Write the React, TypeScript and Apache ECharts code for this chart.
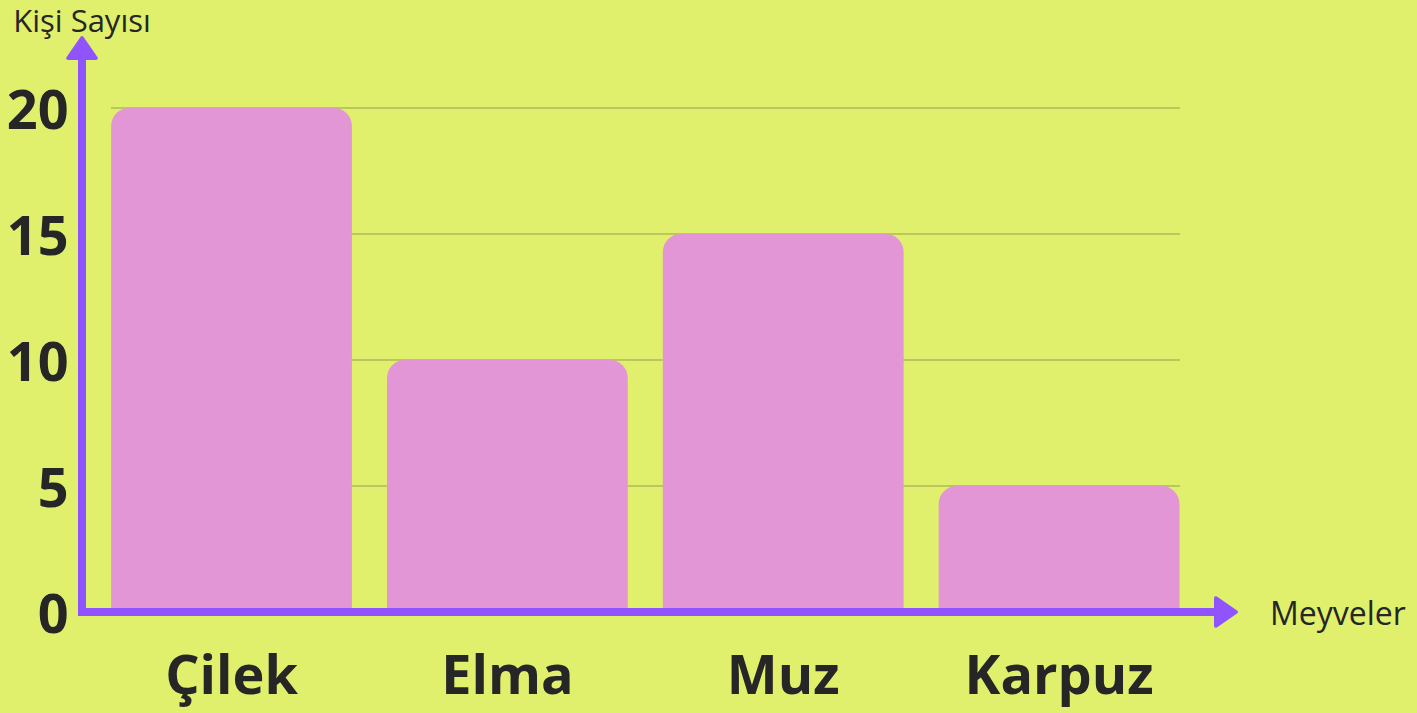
import React, { useEffect, useRef } from "react";
import * as echarts from "echarts";

const categories = ["Çilek", "Elma", "Muz", "Karpuz"];
const values = [20, 10, 15, 5];
const yTicks = [0, 5, 10, 15, 20];
const yAxisName = "Kişi Sayısı";
const xAxisName = "Meyveler";

const BG = "#E1F06C";
const BAR = "#E296D6";
const PURPLE = "#9054FF";
const GRIDLINE = "#AEBA5A";
const TEXT = "#262626";
const FONT = "'Open Sans', 'Noto Sans', sans-serif";

const ARROW =
  "path://M60,5 Q66.5,-3 73,5 L130,88 Q136,100 122,100 L11,100 Q-3,100 3,88 Z";

export default function App() {
  const ref = useRef<HTMLDivElement>(null);
  useEffect(() => {
    if (!ref.current) return;
    const chart = echarts.init(ref.current, undefined, { renderer: "svg" });
    const yMin = yTicks[0];
    const yMax = yTicks[yTicks.length - 1];
    const yInterval = yTicks[1] - yTicks[0];
    chart.setOption({
      animation: false,
      backgroundColor: BG,
      textStyle: { fontFamily: FONT },
      grid: [
        { left: 93.6, right: 220, top: 108, bottom: 101 },
        { left: 82, right: 191, top: 48, bottom: 101 },
        { left: 111, right: 237, top: 108, bottom: 101 },
      ],
      xAxis: [
        {
          type: "category",
          gridIndex: 0,
          data: categories,
          axisLine: { show: false },
          axisTick: { show: false },
          axisLabel: {
            margin: 34,
            fontSize: 54,
            fontWeight: "bold",
            color: TEXT,
            fontFamily: FONT,
          },
        },
        {
          type: "value",
          gridIndex: 1,
          min: 0,
          max: 1,
          z: 10,
          splitLine: { show: false },
          axisTick: { show: false },
          axisLabel: { show: false },
          axisLine: {
            show: true,
            onZero: false,
            symbol: ["none", ARROW],
            symbolSize: [33, 24],
            lineStyle: { color: PURPLE, width: 8, cap: "square" },
          },
          name: xAxisName,
          nameLocation: "end",
          nameGap: 44,
          nameTextStyle: { fontSize: 32, color: TEXT, fontFamily: FONT, padding: [0, 0, 5, 0] },
        },
        {
          type: "category",
          gridIndex: 2,
          data: categories,
          show: false,
        },
      ],
      yAxis: [
        {
          type: "value",
          gridIndex: 0,
          min: yMin,
          max: yMax,
          interval: yInterval,
          axisLine: { show: false },
          axisTick: { show: false },
          splitLine: { show: false },
          axisLabel: {
            margin: 25,
            fontSize: 54,
            fontWeight: "bold",
            color: TEXT,
            fontFamily: FONT,
          },
        },
        {
          type: "value",
          gridIndex: 1,
          min: 0,
          max: 1,
          z: 10,
          splitLine: { show: false },
          axisTick: { show: false },
          axisLabel: { show: false },
          axisLine: {
            show: true,
            onZero: false,
            symbol: ["none", ARROW],
            symbolSize: [33, 24],
            lineStyle: { color: PURPLE, width: 8, cap: "square" },
          },
          name: yAxisName,
          nameLocation: "end",
          nameGap: 13,
          nameTextStyle: { fontSize: 31, lineHeight: 30, color: TEXT, fontFamily: FONT },
        },
        {
          type: "value",
          gridIndex: 2,
          min: yMin,
          max: yMax,
          interval: yInterval,
          axisLine: { show: false },
          axisTick: { show: false },
          axisLabel: { show: false },
          splitLine: { show: true, lineStyle: { color: GRIDLINE, width: 1.5 } },
        },
      ],
      series: [
        {
          type: "bar",
          xAxisIndex: 0,
          yAxisIndex: 0,
          data: values,
          barCategoryGap: "12.7%",
          itemStyle: { color: BAR, borderRadius: [18, 18, 0, 0] },
        },
      ],
    });
    return () => chart.dispose();
  }, []);
  return (
    <div
      ref={ref}
      style={{ position: "fixed", left: 0, top: 0, width: 1417, height: 713 }}
    />
  );
}
